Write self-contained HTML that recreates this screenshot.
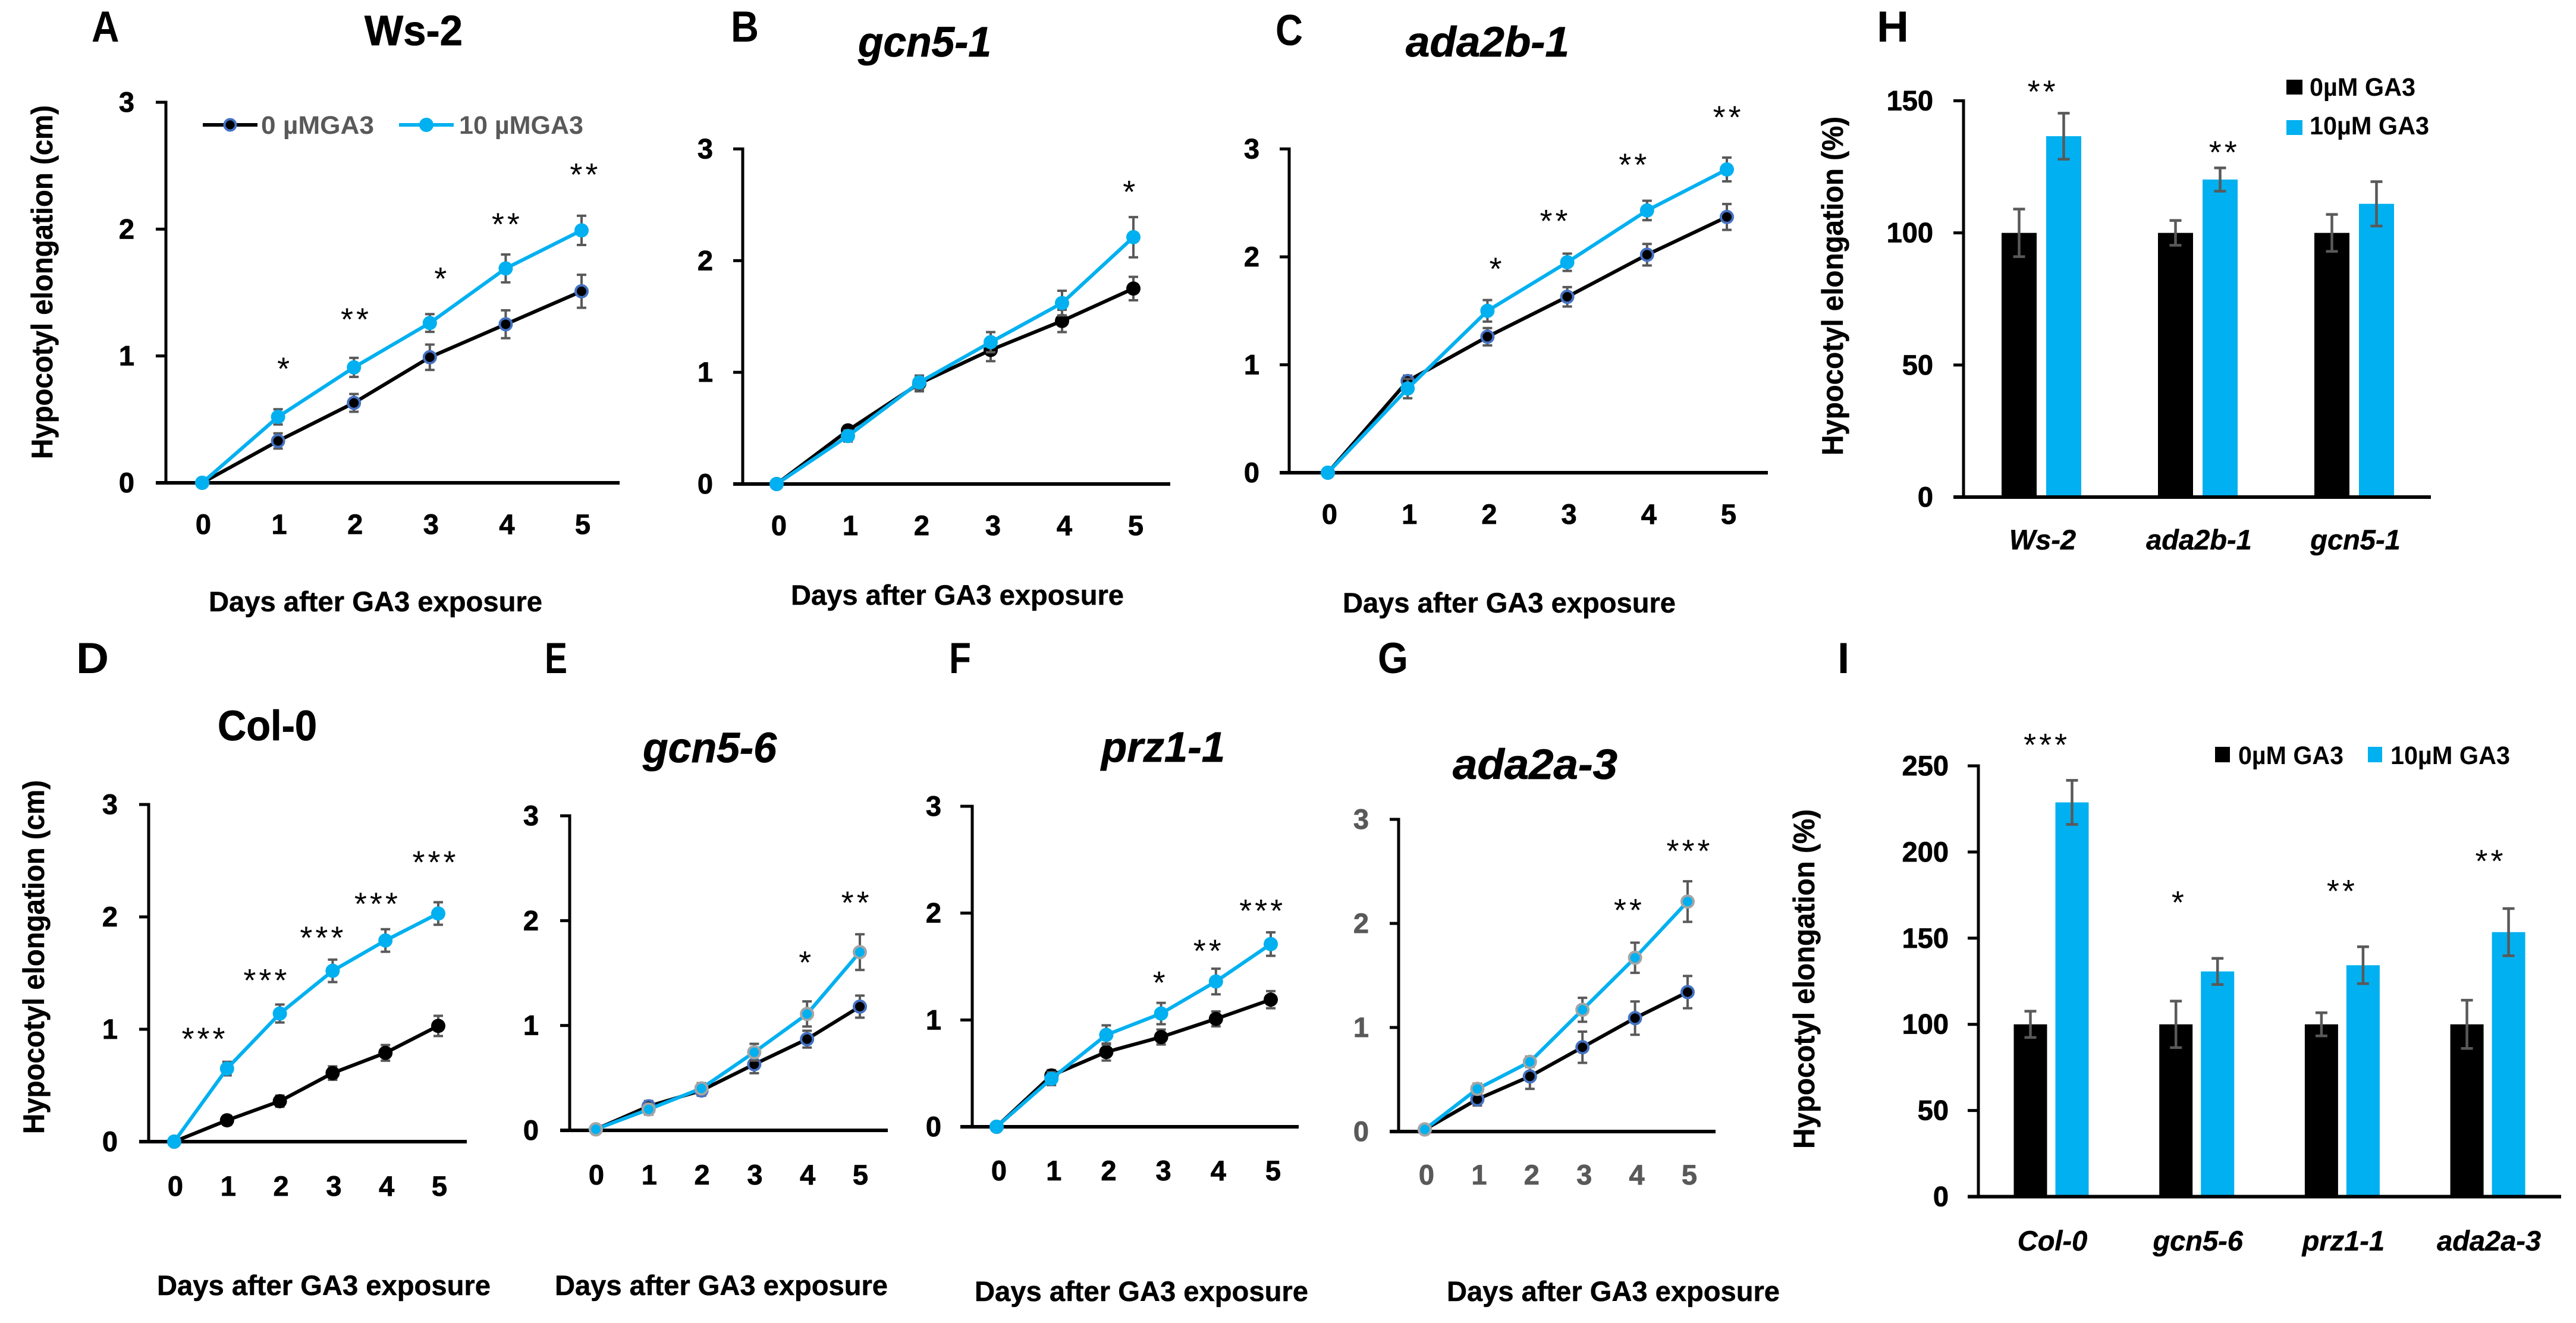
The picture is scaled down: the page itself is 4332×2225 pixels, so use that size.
<!DOCTYPE html>
<html lang="en">
<head>
<meta charset="utf-8">
<title>Hypocotyl elongation after GA3 exposure</title>
<style>
html,body{margin:0;padding:0;background:#fff;}
svg{display:block;font-family:"Liberation Sans",sans-serif;font-weight:700;fill:#000;}
.letter{font-size:73px;}
.title{font-size:71px;stroke:#000;stroke-width:.8px;}
.it{font-style:italic;}
.ytitle{font-size:50px;stroke:#000;stroke-width:.5px;}
.xtitle{font-size:47px;stroke:#000;stroke-width:.5px;}
.tick{font-size:47px;stroke-width:.8px;}
.cat{font-size:47px;font-style:italic;stroke:#000;stroke-width:.5px;}
.legend{font-size:43px;}
.star{font-size:54px;font-weight:400;letter-spacing:5px;text-anchor:middle;}
</style>
</head>
<body>
<svg id="figure" xmlns="http://www.w3.org/2000/svg" width="4332" height="2225" viewBox="0 0 4332 2225">
<rect x="0" y="0" width="4332" height="2225" fill="#fff"/>

<text class="letter" x="154" y="70" textLength="46.5" lengthAdjust="spacingAndGlyphs">A</text>
<text class="letter" x="1229" y="70" textLength="47" lengthAdjust="spacingAndGlyphs">B</text>
<text class="letter" x="2145" y="76" textLength="46" lengthAdjust="spacingAndGlyphs">C</text>
<text class="letter" x="128" y="1132" textLength="55" lengthAdjust="spacingAndGlyphs">D</text>
<text class="letter" x="916" y="1132" textLength="38" lengthAdjust="spacingAndGlyphs">E</text>
<text class="letter" x="1596" y="1132" textLength="37" lengthAdjust="spacingAndGlyphs">F</text>
<text class="letter" x="2317" y="1132" textLength="51" lengthAdjust="spacingAndGlyphs">G</text>
<text class="letter" x="3156" y="70" textLength="54" lengthAdjust="spacingAndGlyphs">H</text>
<text class="letter" x="3090" y="1132">I</text>

<text class="title" x="613" y="76" textLength="165" lengthAdjust="spacingAndGlyphs">Ws-2</text>
<text class="title it" x="1443" y="95" textLength="224" lengthAdjust="spacingAndGlyphs">gcn5-1</text>
<text class="title it" x="2364" y="95" textLength="275" lengthAdjust="spacingAndGlyphs">ada2b-1</text>
<text class="title" x="366" y="1245" textLength="167" lengthAdjust="spacingAndGlyphs">Col-0</text>
<text class="title it" x="1081" y="1282" textLength="225" lengthAdjust="spacingAndGlyphs">gcn5-6</text>
<text class="title it" x="1852" y="1281" textLength="208" lengthAdjust="spacingAndGlyphs">prz1-1</text>
<text class="title it" x="2443" y="1310" textLength="277" lengthAdjust="spacingAndGlyphs">ada2a-3</text>

<text class="ytitle" transform="translate(88,772) rotate(-90)" textLength="595" lengthAdjust="spacingAndGlyphs">Hypocotyl elongation (cm)</text>
<text class="ytitle" transform="translate(74,1907) rotate(-90)" textLength="595" lengthAdjust="spacingAndGlyphs">Hypocotyl elongation (cm)</text>
<text class="ytitle" transform="translate(3099,766) rotate(-90)" textLength="570" lengthAdjust="spacingAndGlyphs">Hypocotyl elongation (%)</text>
<text class="ytitle" transform="translate(3051,1932) rotate(-90)" textLength="571" lengthAdjust="spacingAndGlyphs">Hypocotyl elongation (%)</text>

<text class="xtitle" x="351" y="1028" textLength="561" lengthAdjust="spacingAndGlyphs">Days after GA3 exposure</text>
<text class="xtitle" x="1330" y="1017" textLength="560" lengthAdjust="spacingAndGlyphs">Days after GA3 exposure</text>
<text class="xtitle" x="2258" y="1030" textLength="560" lengthAdjust="spacingAndGlyphs">Days after GA3 exposure</text>
<text class="xtitle" x="264" y="2178" textLength="561" lengthAdjust="spacingAndGlyphs">Days after GA3 exposure</text>
<text class="xtitle" x="933" y="2178" textLength="560" lengthAdjust="spacingAndGlyphs">Days after GA3 exposure</text>
<text class="xtitle" x="1639" y="2188" textLength="561" lengthAdjust="spacingAndGlyphs">Days after GA3 exposure</text>
<text class="xtitle" x="2433" y="2188" textLength="560" lengthAdjust="spacingAndGlyphs">Days after GA3 exposure</text>

<g>
  <line x1="341" y1="210" x2="433" y2="210" stroke="#000" stroke-width="6"/>
  <circle cx="387" cy="210" r="9.5" fill="#000" stroke="#4472c4" stroke-width="4"/>
  <text class="legend" x="439" y="225" fill="#595959" textLength="190" lengthAdjust="spacingAndGlyphs">0 µMGA3</text>
  <line x1="671" y1="210" x2="763" y2="210" stroke="#00b0f0" stroke-width="6"/>
  <circle cx="717" cy="210" r="12" fill="#00b0f0"/>
  <text class="legend" x="772" y="225" fill="#595959" textLength="209" lengthAdjust="spacingAndGlyphs">10 µMGA3</text>
</g>
<g>
  <rect x="3845" y="134" width="27" height="25" fill="#000"/>
  <text class="legend" x="3884" y="161" textLength="178" lengthAdjust="spacingAndGlyphs">0µM GA3</text>
  <rect x="3845" y="202" width="27" height="25" fill="#00b0f0"/>
  <text class="legend" x="3884" y="226" textLength="201" lengthAdjust="spacingAndGlyphs">10µM GA3</text>
</g>
<g>
  <rect x="3725" y="1256" width="25" height="26" fill="#000"/>
  <text class="legend" x="3764" y="1285" textLength="177" lengthAdjust="spacingAndGlyphs">0µM GA3</text>
  <rect x="3982" y="1256" width="24" height="26" fill="#00b0f0"/>
  <text class="legend" x="4020" y="1285" textLength="201" lengthAdjust="spacingAndGlyphs">10µM GA3</text>
</g>
</svg>

<script>
// ---- shared axis data ----
const days = [0, 1, 2, 3, 4, 5];
const lineYTicks = [0, 1, 2, 3];

// ---- panel A: Ws-2 ----
const wsControl = [0, 0.33, 0.63, 0.99, 1.25, 1.51];
const wsControlErr = [0, 0.06, 0.07, 0.10, 0.11, 0.13];
const wsTreated = [0, 0.52, 0.91, 1.26, 1.69, 1.99];
const wsTreatedErr = [0, 0.06, 0.075, 0.07, 0.11, 0.115];
const wsStarLabels = ['*', '**', '*', '**', '**'];
const wsStarDays = [1.09, 2.03, 3.16, 4.02, 5.05];
const wsStarLevels = [0.93, 1.32, 1.64, 2.07, 2.46];

// ---- panel B: gcn5-1 ----
const gcn51Control = [0, 0.48, 0.90, 1.20, 1.46, 1.75];
const gcn51ControlErr = [0, 0.04, 0.07, 0.10, 0.10, 0.105];
const gcn51Treated = [0, 0.43, 0.91, 1.27, 1.62, 2.21];
const gcn51TreatedErr = [0, 0.05, 0.06, 0.09, 0.11, 0.18];
const gcn51StarLabels = ['*'];
const gcn51StarDays = [4.96];
const gcn51StarLevels = [2.65];

// ---- panel C: ada2b-1 ----
const ada2bControl = [0, 0.85, 1.26, 1.63, 2.02, 2.37];
const ada2bControlErr = [0, 0.05, 0.08, 0.09, 0.10, 0.12];
const ada2bTreated = [0, 0.78, 1.50, 1.95, 2.43, 2.81];
const ada2bTreatedErr = [0, 0.09, 0.10, 0.08, 0.09, 0.11];
const ada2bStarLabels = ['*', '**', '**', '**'];
const ada2bStarDays = [2.12, 2.85, 3.84, 5.02];
const ada2bStarLevels = [1.925, 2.37, 2.89, 3.33];

// ---- panel D: Col-0 ----
const colControl = [0, 0.19, 0.36, 0.61, 0.79, 1.03];
const colControlErr = [0, 0.04, 0.05, 0.06, 0.07, 0.09];
const colTreated = [0, 0.65, 1.14, 1.52, 1.79, 2.03];
const colTreatedErr = [0, 0.06, 0.08, 0.10, 0.10, 0.10];
const colStarLabels = ['***', '***', '***', '***', '***'];
const colStarDays = [0.58, 1.75, 2.82, 3.85, 4.95];
const colStarLevels = [0.95, 1.47, 1.85, 2.15, 2.52];

// ---- panel E: gcn5-6 ----
const gcn56Control = [0.01, 0.23, 0.38, 0.63, 0.87, 1.18];
const gcn56ControlErr = [0, 0.05, 0.05, 0.085, 0.08, 0.105];
const gcn56Treated = [0.01, 0.20, 0.40, 0.745, 1.11, 1.70];
const gcn56TreatedErr = [0, 0.05, 0.05, 0.08, 0.12, 0.17];
const gcn56StarLabels = ['*', '**'];
const gcn56StarDays = [3.99, 4.94];
const gcn56StarLevels = [1.64, 2.21];

// ---- panel F: prz1-1 ----
const przControl = [0, 0.48, 0.70, 0.84, 1.01, 1.19];
const przControlErr = [0, 0.05, 0.08, 0.07, 0.07, 0.08];
const przTreated = [0, 0.45, 0.86, 1.06, 1.36, 1.71];
const przTreatedErr = [0, 0.06, 0.09, 0.10, 0.12, 0.11];
const przStarLabels = ['*', '**', '***'];
const przStarDays = [2.99, 3.87, 4.85];
const przStarLevels = [1.385, 1.685, 2.06];

// ---- panel G: ada2a-3 ----
const ada2aControl = [0.02, 0.31, 0.53, 0.81, 1.09, 1.34];
const ada2aControlErr = [0, 0.06, 0.12, 0.15, 0.16, 0.155];
const ada2aTreated = [0.02, 0.41, 0.67, 1.17, 1.67, 2.21];
const ada2aTreatedErr = [0, 0.05, 0.05, 0.115, 0.145, 0.195];
const ada2aStarLabels = ['**', '***'];
const ada2aStarDays = [3.89, 5.04];
const ada2aStarLevels = [2.165, 2.735];

// ---- panel H: bar chart ----
const barHCategories = ['Ws-2', 'ada2b-1', 'gcn5-1'];
const barHYTicks = [0, 50, 100, 150];
const barHControl = [100, 100, 100];
const barHControlErr = [9, 4.7, 7];
const barHTreated = [136.6, 120.2, 111];
const barHTreatedErr = [8.7, 4.4, 8.4];
const barHStarLabels = ['**', '**', ''];
const barHStarLevels = [155, 132, 0];
const barHStarSlots = [0.01, 1.17, 2];

// ---- panel I: bar chart ----
const barICategories = ['Col-0', 'gcn5-6', 'prz1-1', 'ada2a-3'];
const barIYTicks = [0, 50, 100, 150, 200, 250];
const barIControl = [100, 100, 100, 100];
const barIControlErr = [7.6, 13.5, 6.7, 14];
const barITreated = [228.8, 130.7, 134.3, 153.5];
const barITreatedErr = [12.8, 7.6, 10.7, 13.7];
const barIStarLabels = ['***', '*', '**', '**'];
const barIStarLevels = [264.5, 173, 179.6, 197];
const barIStarSlots = [-0.03, 0.88, 2, 3.02];

const BLACK = '#000000', BLUE = '#00b0f0', RING = '#4472c4', GREY = '#a5a5a5', ERR = '#595959';
const NS = 'http://www.w3.org/2000/svg';
const figure = document.getElementById('figure');

function mk(parent, tag, attrs, text) {
  const n = document.createElementNS(NS, tag);
  for (const k in attrs) n.setAttribute(k, attrs[k]);
  if (text !== undefined) n.textContent = text;
  parent.appendChild(n);
  return n;
}

function drawAxes(g, L, yTicks, yMax) {
  const sy = v => L.y0 - (L.y0 - L.yTop) * v / yMax;
  let el = mk(g, 'line', {x1: L.axisX, y1: sy(yMax) - 2.5, x2: L.axisX, y2: L.y0, stroke: '#000', 'stroke-width': 5});
  
  
  el = mk(g, 'line', {x1: L.tickLeft, y1: L.y0, x2: L.xEnd, y2: L.y0, stroke: '#000', 'stroke-width': 6});
  
  
  yTicks.forEach(t => {
    let m = mk(g, 'line', {x1: L.tickLeft, y1: sy(t), x2: L.axisX, y2: sy(t), stroke: '#000', 'stroke-width': 5});
    
    
    let lab = mk(g, 'text', {'class': 'tick', x: L.yLabelRight, y: sy(t) + 16, 'text-anchor': 'end', fill: L.tickColor || '#000', stroke: L.tickColor || '#000'}, String(t));
    
    
  });
  return sy;
}

function drawErr(g, x, yHi, yLo, cap, width) {
  let el = mk(g, 'path', {d: 'M' + (x - cap) + ' ' + yHi + 'H' + (x + cap) + 'M' + x + ' ' + yHi + 'V' + yLo + 'M' + (x - cap) + ' ' + yLo + 'H' + (x + cap), fill: 'none', stroke: ERR, 'stroke-width': width});
  
  
}

function drawSeries(g, sx, sy, values, errs, color, ring, r, name) {
  values.forEach((v, i) => {
    if (errs[i] > 0) drawErr(g, sx(days[i]), sy(v + errs[i]), sy(v - errs[i]), 8, 4);
  });
  const pts = values.map((v, i) => sx(days[i]) + ',' + sy(v)).join(' ');
  let line = mk(g, 'polyline', {points: pts, fill: 'none', stroke: color, 'stroke-width': 6, 'stroke-linejoin': 'round'});
  
  
  values.forEach((v, i) => {
    const a = {cx: sx(days[i]), cy: sy(v), r: ring ? r - 2 : r, fill: color};
    if (ring) { a.stroke = ring; a['stroke-width'] = 4; }
    let c = mk(g, 'circle', a);
    
    
  });
}

function drawLinePanel(L, control, controlErr, treated, treatedErr, starLabels, starDays, starLevels) {
  const g = mk(figure, 'g', {});
  
  
  const sy = drawAxes(g, L, lineYTicks, 3);
  const sx = d => L.x0 + (L.x5 - L.x0) * d / 5;
  days.forEach(d => {
    let lab = mk(g, 'text', {'class': 'tick', x: sx(d) + L.xLabelShift, y: L.xLabelBase, 'text-anchor': 'middle', fill: L.tickColor || '#000', stroke: L.tickColor || '#000'}, String(d));
    
    
  });
  drawSeries(g, sx, sy, control, controlErr, BLACK, L.controlRing, 12, 'control-0um');
  drawSeries(g, sx, sy, treated, treatedErr, BLUE, L.treatedRing, 12, 'treated-10um');
  starLabels.forEach((s, i) => {
    let t = mk(g, 'text', {'class': 'star', x: sx(starDays[i]), y: sy(starLevels[i]) + 25}, s);
    
    
  });
}

function drawBarPanel(L, cats, yTicks, yMax, control, controlErr, treated, treatedErr, starLabels, starLevels, starSlots) {
  const g = mk(figure, 'g', {});
  
  
  const sy = v => L.y0 - (L.y0 - L.yTop) * v / yMax;
  const sx = i => L.catStart + L.catStep * i;
  cats.forEach((c, i) => {
    const cx = sx(i);
    let b = mk(g, 'rect', {x: cx - L.gap / 2 - L.barW, y: sy(control[i]), width: L.barW, height: L.y0 - sy(control[i]), fill: BLACK});
    
    
    b = mk(g, 'rect', {x: cx + L.gap / 2, y: sy(treated[i]), width: L.barW, height: L.y0 - sy(treated[i]), fill: BLUE});
    
    
    const xA = cx - L.gap / 2 - L.barW / 2, xB = cx + L.gap / 2 + L.barW / 2;
    drawErr(g, xA, sy(control[i] + controlErr[i]), sy(control[i] - controlErr[i]), 10, 4.5);
    drawErr(g, xB, sy(treated[i] + treatedErr[i]), sy(treated[i] - treatedErr[i]), 10, 4.5);
    let lab = mk(g, 'text', {'class': 'cat', x: cx + L.catShift, y: L.catBase, 'text-anchor': 'middle'}, c);
    
    
    if (starLabels[i]) {
      let t = mk(g, 'text', {'class': 'star', x: sx(starSlots[i]), y: sy(starLevels[i]) + 25}, starLabels[i]);
      
      
    }
  });
  drawAxes(g, L, yTicks, yMax);
}

drawLinePanel({name: 'panel-a-chart', axisX: 279, tickLeft: 262, xEnd: 1042, y0: 812, yTop: 172, x0: 340, x5: 978, yLabelRight: 226, xLabelBase: 898, xLabelShift: 2, controlRing: RING},
  wsControl, wsControlErr, wsTreated, wsTreatedErr, wsStarLabels, wsStarDays, wsStarLevels);
drawLinePanel({name: 'panel-b-chart', axisX: 1249, tickLeft: 1233, xEnd: 1968, y0: 814, yTop: 250.5, x0: 1306, x5: 1906, yLabelRight: 1199, xLabelBase: 900, xLabelShift: 4},
  gcn51Control, gcn51ControlErr, gcn51Treated, gcn51TreatedErr, gcn51StarLabels, gcn51StarDays, gcn51StarLevels);
drawLinePanel({name: 'panel-c-chart', axisX: 2168, tickLeft: 2152, xEnd: 2973, y0: 795, yTop: 250.5, x0: 2233, x5: 2904, yLabelRight: 2118, xLabelBase: 881, xLabelShift: 3, controlRing: RING},
  ada2bControl, ada2bControlErr, ada2bTreated, ada2bTreatedErr, ada2bStarLabels, ada2bStarDays, ada2bStarLevels);
drawLinePanel({name: 'panel-d-chart', axisX: 250, tickLeft: 234, xEnd: 785, y0: 1920, yTop: 1353, x0: 293, x5: 737, yLabelRight: 198, xLabelBase: 2011, xLabelShift: 2},
  colControl, colControlErr, colTreated, colTreatedErr, colStarLabels, colStarDays, colStarLevels);
drawLinePanel({name: 'panel-e-chart', axisX: 958, tickLeft: 942, xEnd: 1493, y0: 1901, yTop: 1372, x0: 1002, x5: 1446, yLabelRight: 906, xLabelBase: 1992, xLabelShift: 1, controlRing: RING, treatedRing: GREY},
  gcn56Control, gcn56ControlErr, gcn56Treated, gcn56TreatedErr, gcn56StarLabels, gcn56StarDays, gcn56StarLevels);
drawLinePanel({name: 'panel-f-chart', axisX: 1635, tickLeft: 1615, xEnd: 2184, y0: 1895, yTop: 1356, x0: 1676, x5: 2137, yLabelRight: 1583, xLabelBase: 1985, xLabelShift: 4},
  przControl, przControlErr, przTreated, przTreatedErr, przStarLabels, przStarDays, przStarLevels);
drawLinePanel({name: 'panel-g-chart', axisX: 2352, tickLeft: 2337, xEnd: 2885, y0: 1903, yTop: 1378, x0: 2396, x5: 2838, yLabelRight: 2302, xLabelBase: 1992, xLabelShift: 3, controlRing: RING, treatedRing: GREY, tickColor: '#595959'},
  ada2aControl, ada2aControlErr, ada2aTreated, ada2aTreatedErr, ada2aStarLabels, ada2aStarDays, ada2aStarLevels);

drawBarPanel({name: 'panel-h-chart', axisX: 3302, tickLeft: 3285, xEnd: 4088, y0: 836, yTop: 169.5, yLabelRight: 3251, catStart: 3433, catStep: 263, barW: 59, gap: 16, catBase: 924, catShift: 2},
  barHCategories, barHYTicks, 150, barHControl, barHControlErr, barHTreated, barHTreatedErr, barHStarLabels, barHStarLevels, barHStarSlots);
drawBarPanel({name: 'panel-i-chart', axisX: 3327, tickLeft: 3309, xEnd: 4307, y0: 2012.5, yTop: 1288, yLabelRight: 3277, catStart: 3449.5, catStep: 244.7, barW: 56, gap: 14, catBase: 2103, catShift: 2},
  barICategories, barIYTicks, 250, barIControl, barIControlErr, barITreated, barITreatedErr, barIStarLabels, barIStarLevels, barIStarSlots);
</script>
</body>
</html>
